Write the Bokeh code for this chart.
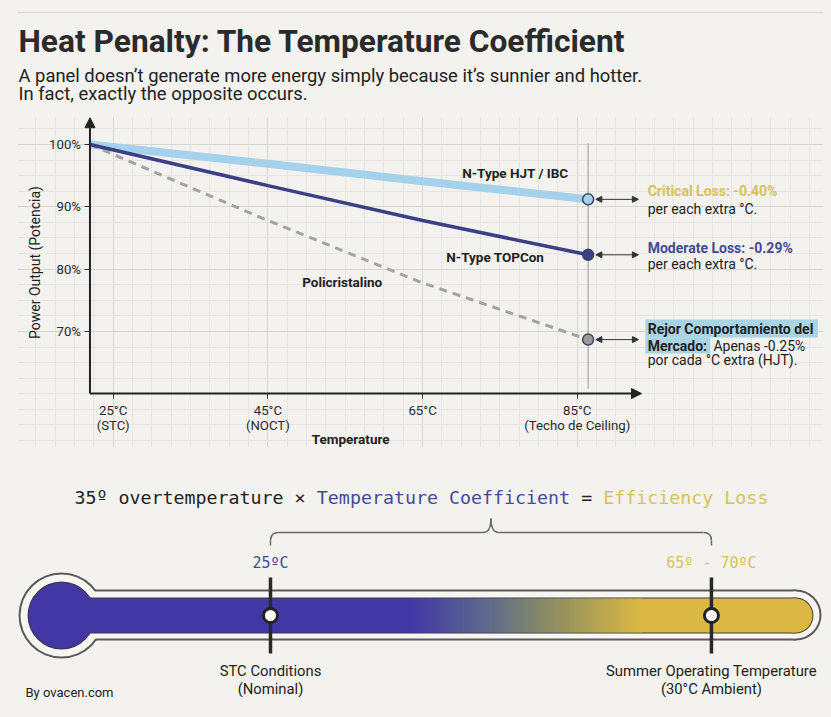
import numpy as np
from bokeh.plotting import figure
from bokeh.layouts import column
from bokeh.models import Range1d, Arrow, NormalHead, FixedTicker, ColumnDataSource
from bokeh.core.properties import value
from bokeh.embed import file_html
from bokeh.resources import INLINE

# ---------------------------------------------------------------- data
# relative power output (%) against cell temperature (°C); the lines start on the y axis
temp_c = [22.0, 45.0, 65.0, 86.4]
hjt_ibc = [100.0, 96.9, 94.1, 91.2]
topcon = [100.0, 93.4, 87.8, 82.3]
policristalino = [100.0, 87.8, 77.8, 68.7]

x_ticks = [25, 45, 65, 85]
x_tick_labels = ["25°C\n(STC)", "45°C\n(NOCT)", "65°C", "85°C\n(Techo de Ceiling)"]
y_ticks = [70, 80, 90, 100]
y_tick_labels = ["70%", "80%", "90%", "100%"]

# thermometer reference points (°C)
stc_temp = 25.0
summer_temp = 67.5

# ---------------------------------------------------------------- styling
BG = "#f3f2ee"
INK = "#222222"
NAVY = "#3b3f86"
NAVY_TXT = "#454a94"
LIGHT = "#a5d2ea"
GRAY = "#a3a3a3"
GOLD_TXT = "#d6c25c"
BLUE_FILL = "#4337a6"
GOLD_FILL = "#dab843"
SANS = value("Roboto")
MONO = value("DejaVu Sans Mono")

X0_AXIS, Y0_AXIS = 22.0, 60.05   # where the two axes cross


def bare(fig):
    fig.grid.visible = False
    fig.outline_line_color = None
    fig.background_fill_color = BG
    fig.border_fill_color = BG
    return fig


# all three panels share the same horizontal frame (17 px left, 8 px right)
common = dict(width=831, output_backend="svg", toolbar_location=None,
              min_border_left=17, min_border_right=8)

# ---------------------------------------------------------------- header
head = bare(figure(height=108, x_range=Range1d(17, 823), y_range=Range1d(108, 0),
                   x_axis_location=None, y_axis_location=None, min_border_top=0, min_border_bottom=0,
                   **common))
head.segment(x0=[17], y0=[12], x1=[823], y1=[12], line_color="#dcdcd8", line_width=1.5)
head.text(x=[18], y=[41], text=["Heat Penalty: The Temperature Coefficient"],
          text_font=SANS, text_font_style="bold", text_font_size="31.7px",
          text_color="#2b2b2b", text_baseline="middle")
head.text(x=[18, 18], y=[74.5, 92.5],
          text=["A panel doesn\u2019t generate more energy simply because it\u2019s sunnier and hotter.",
                "In fact, exactly the opposite occurs."],
          text_font=SANS, text_font_size="18.4px", text_color=INK, text_baseline="middle")

# ---------------------------------------------------------------- chart
chart = bare(figure(height=347, x_range=Range1d(12.63, 116.83), y_range=Range1d(51.39, 104.33),
                    min_border_top=9, min_border_bottom=8, **common))
chart.grid.visible = True
chart.xaxis.fixed_location = Y0_AXIS
chart.yaxis.fixed_location = X0_AXIS
chart.xaxis.ticker = FixedTicker(ticks=x_ticks, minor_ticks=list(np.arange(15.0, 117.0, 2.5)))
chart.yaxis.ticker = FixedTicker(ticks=y_ticks, minor_ticks=list(np.arange(52.5, 105.0, 2.5)))
chart.xaxis.major_label_overrides = dict(zip(x_ticks, x_tick_labels))
chart.yaxis.major_label_overrides = dict(zip(y_ticks, y_tick_labels))
for ax in (chart.xaxis, chart.yaxis):
    ax.axis_line_color = None
    ax.major_tick_line_color = "#333333"
    ax.major_tick_out = 5
    ax.major_tick_in = 0
    ax.minor_tick_line_color = None
    ax.major_label_text_font = "Roboto"
    ax.major_label_text_font_size = "13.2px"
    ax.major_label_text_color = "#2a2a2a"
    ax.major_label_text_line_height = 1.05
    ax.major_label_standoff = 4
chart.grid.grid_line_color = "#d6d6d3"
chart.grid.minor_grid_line_color = "#e5e5e2"

chart.text(x=[14.95], y=[81.07], text=["Power Output (Potencia)"], angle=np.pi / 2,
           text_font=SANS, text_font_size="14px", text_color=INK,
           text_align="center", text_baseline="middle")

# ceiling marker through the 85 °C end points
chart.segment(x0=[temp_c[-1]], y0=[100.2], x1=[temp_c[-1]], y1=[60.8], line_color="#9a9a9a", line_width=1)

chart.line(temp_c, hjt_ibc, line_color=LIGHT, line_width=8)
chart.line(temp_c, policristalino, line_color=GRAY, line_width=3, line_dash="8 6")
chart.line(temp_c, topcon, line_color=NAVY, line_width=3.5)

ends = ColumnDataSource(dict(x=[temp_c[-1]] * 3,
                             y=[hjt_ibc[-1], topcon[-1], policristalino[-1]],
                             c=[LIGHT, NAVY, "#9b9b9b"]))
chart.scatter("x", "y", source=ends, size=11, fill_color="c", line_color="#3a4660", line_width=1.5)

# double arrows linking the end points to their notes
for yv in (hjt_ibc[-1], topcon[-1], policristalino[-1]):
    chart.add_layout(Arrow(start=NormalHead(size=6, fill_color="#333333", line_color="#333333"),
                           end=NormalHead(size=6, fill_color="#333333", line_color="#333333"),
                           x_start=87.4, y_start=yv, x_end=92.9, y_end=yv,
                           line_color="#333333", line_width=1))

# axis arrows
chart.add_layout(Arrow(end=NormalHead(size=10, fill_color="#222222", line_color="#222222"),
                       x_start=X0_AXIS, y_start=Y0_AXIS, x_end=93.3, y_end=Y0_AXIS,
                       line_color="#222222", line_width=2))
chart.add_layout(Arrow(end=NormalHead(size=10, fill_color="#222222", line_color="#222222"),
                       x_start=X0_AXIS, y_start=Y0_AXIS, x_end=X0_AXIS, y_end=104.3,
                       line_color="#222222", line_width=2))

# series names
chart.text(x=[77.0, 74.4, 54.6], y=[95.5, 81.9, 77.9],
           text=["N-Type HJT / IBC", "N-Type TOPCon", "Policristalino"],
           text_font=SANS, text_font_style="bold", text_font_size="13.5px", text_color=INK,
           text_align="center", text_baseline="middle")
chart.text(x=[55.7], y=[52.83], text=["Temperature"], text_font=SANS, text_font_style="bold",
           text_font_size="13.5px", text_color=INK, text_align="center", text_baseline="middle")

# highlight behind the market note
chart.quad(left=[93.8, 93.8], right=[116.1, 102.2], top=[71.92, 69.04], bottom=[69.04, 66.47],
           fill_color="#a8d4e3", line_color=None)

notes_bold = ColumnDataSource(dict(
    x=[94.1, 94.1, 94.1, 94.1],
    y=[92.46, 83.47, 70.48, 67.75],
    t=["Critical Loss: -0.40%", "Moderate Loss: -0.29%", "Rejor Comportamiento del", "Mercado:"],
    c=[GOLD_TXT, NAVY_TXT, INK, INK]))
chart.text("x", "y", text="t", source=notes_bold, text_color="c", text_font=SANS,
           text_font_style="bold", text_font_size="14px", text_baseline="middle")
chart.text(x=[94.1, 94.1, 102.6, 94.1], y=[89.73, 80.9, 67.75, 65.35],
           text=["per each extra °C.", "per each extra °C.", "Apenas -0.25%", "por cada °C extra (HJT)."],
           text_color=INK, text_font=SANS, text_font_size="14px", text_baseline="middle")

# ---------------------------------------------------------------- thermometer
bot = bare(figure(height=262, x_range=Range1d(0.617, 78.30), y_range=Range1d(717, 455),
                  x_axis_location=None, y_axis_location=None, min_border_top=0, min_border_bottom=0,
                  **common))

# equation in a monospace face; each piece starts at its own character column
eq_parts = ["35º overtemperature ×", "Temperature Coefficient", "=", "Efficiency Loss"]
eq_cols = [0, 22, 46, 48]
eq_colors = [INK, NAVY_TXT, INK, GOLD_TXT]
char_w = 0.602 * 18.3
for part, colno, col in zip(eq_parts, eq_cols, eq_colors):
    bot.text(x=[6.11], y=[497], text=[part], x_offset=colno * char_w, text_font=MONO,
             text_font_size="18.3px", text_color=col, text_baseline="middle")

# brace spanning the two reference temperatures
mid = (stc_temp + summer_temp) / 2
r = 0.77
bcol, bw = "#6a6a6a", 1.5
bot.segment(x0=[stc_temp, summer_temp], y0=[545, 545], x1=[stc_temp, summer_temp], y1=[540, 540],
            line_color=bcol, line_width=bw)
bot.quadratic(x0=[stc_temp, summer_temp], y0=[540, 540], cx=[stc_temp, summer_temp], cy=[532, 532],
              x1=[stc_temp + r, summer_temp - r], y1=[532, 532], line_color=bcol, line_width=bw)
bot.segment(x0=[stc_temp + r, mid + r], y0=[532, 532], x1=[mid - r, summer_temp - r], y1=[532, 532],
            line_color=bcol, line_width=bw)
bot.quadratic(x0=[mid - r, mid + r], y0=[532, 532], cx=[mid, mid], cy=[532, 532],
              x1=[mid, mid], y1=[518, 518], line_color=bcol, line_width=bw)

bot.text(x=[stc_temp, summer_temp], y=[562, 562], text=["25ºC", "65º - 70ºC"],
         text_color=[NAVY_TXT, GOLD_TXT], text_font=MONO, text_font_size="15px",
         text_align="center", text_baseline="middle")

bulb_x, cap_x, fill_cap_x = 4.86, 75.65, 75.60
OUT = "#5a5a5a"
GLASS = "#f7f6f3"
# glass outline, then glass interior
bot.scatter([bulb_x], [615], size=86, fill_color=OUT, line_color=None)
bot.quad(left=[bulb_x], right=[cap_x], top=[589], bottom=[640], fill_color=OUT, line_color=None)
bot.scatter([cap_x], [614.5], size=51, fill_color=OUT, line_color=None)
bot.scatter([bulb_x], [615], size=82, fill_color=GLASS, line_color=None)
bot.quad(left=[bulb_x], right=[cap_x], top=[591], bottom=[638], fill_color=GLASS, line_color=None)
bot.scatter([cap_x], [614.5], size=47, fill_color=GLASS, line_color=None)

# liquid column: thin rim, then blue -> gold fill
bot.scatter([bulb_x], [615], size=68, fill_color="#3a3a48", line_color=None)
bot.quad(left=[bulb_x], right=[fill_cap_x], top=[597], bottom=[633], fill_color="#3a3a48", line_color=None)
bot.scatter([fill_cap_x], [615], size=36, fill_color="#4a4530", line_color=None)
bot.scatter([bulb_x], [615], size=66, fill_color=BLUE_FILL, line_color=None)
bot.scatter([fill_cap_x], [615], size=34, fill_color=GOLD_FILL, line_color=None)

g0, g1 = 38.49, 60.66
stops = [(0.0, BLUE_FILL), (0.33, "#5d6a8c"), (0.6, "#8c8c62"), (1.0, GOLD_FILL)]


def hex_rgb(h):
    return np.array([int(h[i:i + 2], 16) for i in (1, 3, 5)], dtype=float)


def blend(f):
    for (fa, ca), (fb, cb) in zip(stops[:-1], stops[1:]):
        if fa <= f <= fb:
            k = (f - fa) / (fb - fa)
            rgb = hex_rgb(ca) * (1 - k) + hex_rgb(cb) * k
            return "#%02x%02x%02x" % tuple(int(round(v)) for v in rgb)
    return stops[-1][1]


n = 115
edges = np.linspace(g0, g1, n + 1)
lefts = [bulb_x] + list(edges[:-1]) + [g1]
rights = [g0 + 0.12] + list(edges[1:] + 0.12) + [fill_cap_x]
cols = [BLUE_FILL] + [blend((i + 0.5) / n) for i in range(n)] + [GOLD_FILL]
bot.quad(left=lefts, right=rights, top=[598] * len(lefts), bottom=[632] * len(lefts),
         fill_color=cols, line_color=None)

# reference markers
bot.segment(x0=[stc_temp, summer_temp], y0=[577, 577], x1=[stc_temp, summer_temp], y1=[653, 653],
            line_color="#2a2a2a", line_width=3.5)
bot.scatter([stc_temp, summer_temp], [615, 615], size=14, fill_color="white",
            line_color="#222222", line_width=3)

bot.text(x=[stc_temp, stc_temp, summer_temp, summer_temp], y=[670, 688, 670, 688],
         text=["STC Conditions", "(Nominal)", "Summer Operating Temperature", "(30°C Ambient)"],
         text_font=SANS, text_font_size="14.8px", text_color=INK,
         text_align="center", text_baseline="middle")
bot.text(x=[1.39], y=[692], text=["By ovacen.com"], text_font=SANS, text_font_size="13px",
         text_color=INK, text_baseline="middle")

page = column(head, chart, bot, spacing=0)
page.background = BG
open("out.html", "w").write(file_html(page, INLINE))
